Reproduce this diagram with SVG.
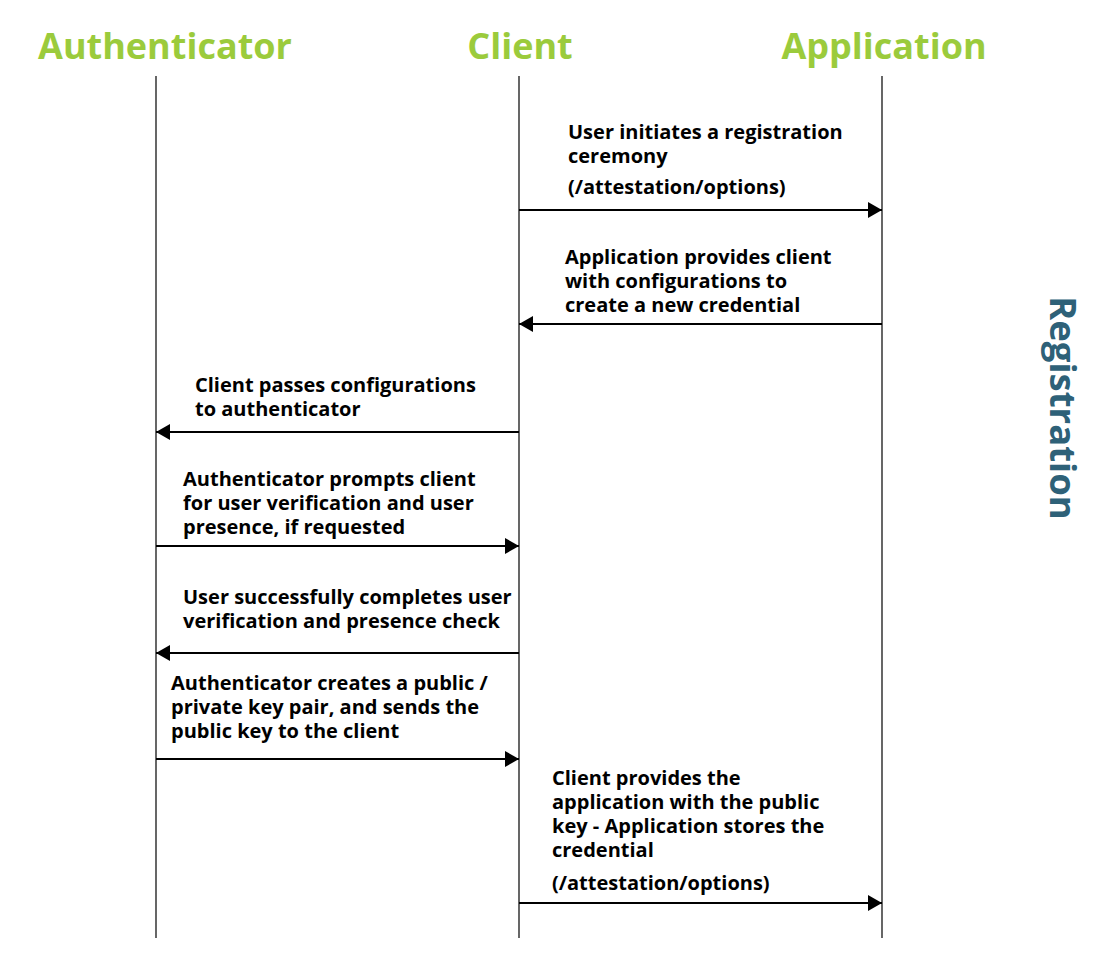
<svg xmlns="http://www.w3.org/2000/svg" width="1095" height="973" viewBox="0 0 1095 973">
<style>
.title{font-family:"Open Sans","Noto Sans",sans-serif;font-weight:bold;font-size:36px;fill:#9BCB3C;text-anchor:middle}
.msg{font-family:"Open Sans","Noto Sans",sans-serif;font-weight:bold;font-size:20px;fill:#000}
.life{stroke:#000;stroke-width:1.2;fill:none}
.arr{stroke:#000;stroke-width:2.2;fill:none;marker-end:url(#ah)}
.side{font-family:"Open Sans","Noto Sans",sans-serif;font-weight:bold;font-size:36.5px;fill:#2E6178;text-anchor:middle}
</style>
<defs>
<marker id="ah" viewBox="0 0 14 16" refX="14" refY="8" markerWidth="14" markerHeight="16" markerUnits="userSpaceOnUse" orient="auto">
<path d="M0,0 L14,8 L0,16 Z" fill="#000"/>
</marker>
</defs>
<rect width="1095" height="973" fill="#fff"/>
<g id="authenticator"><text class="title" x="165" y="59">Authenticator</text><line class="life" x1="156" y1="76" x2="156" y2="938"/></g>
<g id="client"><text class="title" x="520" y="59">Client</text><line class="life" x1="519" y1="76" x2="519" y2="938"/></g>
<g id="application"><text class="title" x="884" y="59">Application</text><line class="life" x1="882" y1="76" x2="882" y2="938"/></g>
<g id="registration"><text class="side" transform="translate(1050,408) rotate(90)">Registration</text></g>
<g id="connectors">
<line class="arr" x1="519" y1="210" x2="882" y2="210"/>
<line class="arr" x1="882" y1="324" x2="519" y2="324"/>
<line class="arr" x1="519" y1="432" x2="156" y2="432"/>
<line class="arr" x1="156" y1="546" x2="519" y2="546"/>
<line class="arr" x1="519" y1="653" x2="156" y2="653"/>
<line class="arr" x1="156" y1="759" x2="519" y2="759"/>
<line class="arr" x1="519" y1="903" x2="882" y2="903"/>
</g>
<g id="labels">
<text class="msg" x="568" y="139">User initiates a registration</text>
<text class="msg" x="568" y="163">ceremony</text>
<text class="msg" x="568" y="194">(/attestation/options)</text>
<text class="msg" x="565" y="264">Application provides client</text>
<text class="msg" x="565" y="288">with configurations to</text>
<text class="msg" x="565" y="312">create a new credential</text>
<text class="msg" x="195" y="392">Client passes configurations</text>
<text class="msg" x="195" y="416">to authenticator</text>
<text class="msg" x="183" y="486">Authenticator prompts client</text>
<text class="msg" x="183" y="510">for user verification and user</text>
<text class="msg" x="183" y="534">presence, if requested</text>
<text class="msg" x="183" y="604">User successfully completes user</text>
<text class="msg" x="183" y="628">verification and presence check</text>
<text class="msg" x="171" y="690">Authenticator creates a public /</text>
<text class="msg" x="171" y="714">private key pair, and sends the</text>
<text class="msg" x="171" y="738">public key to the client</text>
<text class="msg" x="552" y="785">Client provides the</text>
<text class="msg" x="552" y="809">application with the public</text>
<text class="msg" x="552" y="833">key - Application stores the</text>
<text class="msg" x="552" y="857">credential</text>
<text class="msg" x="552" y="890">(/attestation/options)</text>
</g>
</svg>
